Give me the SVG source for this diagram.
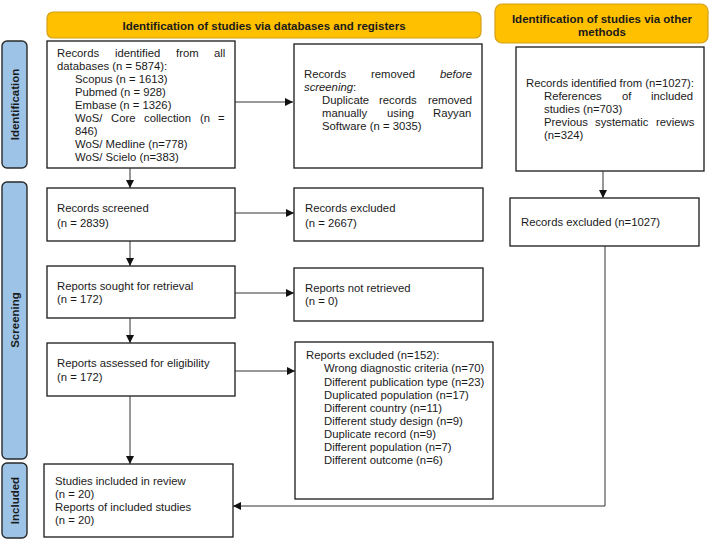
<svg xmlns="http://www.w3.org/2000/svg" width="710" height="539" viewBox="0 0 710 539">
<style>
text{font-family:"Liberation Sans",Arial,sans-serif;font-size:11.3px;fill:#1a1a1a}
.b{font-weight:bold;font-size:11.5px}
.box{fill:#fff;stroke:#1a1a1a;stroke-width:1.3}
.ban{fill:#ffc000;stroke:#d4a017;stroke-width:1.2}
.side{fill:#9dc3e6;stroke:#2a2a2a;stroke-width:1.4}
.c{fill:none;stroke:#333;stroke-width:1}
</style>
<defs>
<marker id="ah" viewBox="0 0 10 10" refX="10" refY="5" markerWidth="8" markerHeight="8" markerUnits="userSpaceOnUse" orient="auto">
<path d="M0,0 L10,5 L0,10 z" fill="#111"/>
</marker>
</defs>
<rect width="710" height="539" fill="#fff"/>

<g id="banner-db"><rect class="ban" x="47" y="12" width="434" height="26" rx="6"/><text class="b" x="264" y="30" text-anchor="middle">Identification of studies via databases and registers</text></g>
<g id="banner-other"><rect class="ban" x="495" y="4" width="213" height="39" rx="7"/><text class="b" x="602" y="23" text-anchor="middle">Identification of studies via other</text><text class="b" x="602" y="36" text-anchor="middle">methods</text></g>

<g id="side-identification"><rect class="side" x="2" y="41" width="25" height="127" rx="5"/><text class="b" transform="translate(19,104.5) rotate(-90)" text-anchor="middle">Identification</text></g>
<g id="side-screening"><rect class="side" x="2" y="182" width="25" height="277" rx="5"/><text class="b" transform="translate(19,320) rotate(-90)" text-anchor="middle">Screening</text></g>
<g id="side-included"><rect class="side" x="2" y="463" width="25" height="75" rx="5"/><text class="b" transform="translate(19,500.5) rotate(-90)" text-anchor="middle">Included</text></g>

<g id="identified">
<rect class="box" x="47" y="41" width="188" height="127"/>
<text y="57"><tspan x="57">Records</tspan><tspan x="115">identified</tspan><tspan x="176">from</tspan><tspan x="214">all</tspan></text>
<text x="57" y="70">databases (n = 5874):</text>
<text x="75" y="83">Scopus (n = 1613)</text>
<text x="75" y="96">Pubmed (n = 928)</text>
<text x="75" y="109">Embase (n = 1326)</text>
<text y="122"><tspan x="75">WoS/</tspan><tspan x="111">Core</tspan><tspan x="144">collection</tspan><tspan x="200">(n</tspan><tspan x="218">=</tspan></text>
<text x="75" y="135">846)</text>
<text x="75" y="148">WoS/ Medline (n=778)</text>
<text x="75" y="161">WoS/ Scielo (n=383)</text>
</g>

<g id="removed">
<rect class="box" x="294" y="44" width="188" height="124"/>
<text y="78"><tspan x="304">Records</tspan><tspan x="371">removed</tspan><tspan x="440" font-style="italic">before</tspan></text>
<text x="304" y="91"><tspan font-style="italic">screening</tspan>:</text>
<text y="104"><tspan x="322">Duplicate</tspan><tspan x="379">records</tspan><tspan x="428">removed</tspan></text>
<text y="117"><tspan x="322">manually</tspan><tspan x="387">using</tspan><tspan x="433">Rayyan</tspan></text>
<text x="322" y="130">Software (n = 3035)</text>
</g>

<g id="other-identified">
<rect class="box" x="516" y="47" width="188" height="124"/>
<text x="526" y="87">Records identified from (n=1027):</text>
<text y="100"><tspan x="544">References</tspan><tspan x="622">of</tspan><tspan x="651">included</tspan></text>
<text x="544" y="113">studies (n=703)</text>
<text y="126"><tspan x="544">Previous</tspan><tspan x="595">systematic</tspan><tspan x="656">reviews</tspan></text>
<text x="544" y="139">(n=324)</text>
</g>

<g id="screened"><rect class="box" x="47" y="188" width="188" height="53"/><text x="57" y="212">Records screened</text><text x="57" y="227">(n = 2839)</text></g>
<g id="excluded"><rect class="box" x="294" y="188" width="189" height="53"/><text x="305" y="212">Records excluded</text><text x="305" y="227">(n = 2667)</text></g>
<g id="other-excluded"><rect class="box" x="510" y="198" width="189" height="48"/><text x="521" y="226">Records excluded (n=1027)</text></g>

<g id="sought"><rect class="box" x="47" y="266" width="188" height="52"/><text x="57" y="290">Reports sought for retrieval</text><text x="57" y="303">(n = 172)</text></g>
<g id="not-retrieved"><rect class="box" x="294" y="268" width="189" height="53"/><text x="305" y="292">Reports not retrieved</text><text x="305" y="305">(n = 0)</text></g>

<g id="assessed"><rect class="box" x="47" y="343" width="188" height="53"/><text x="57" y="367">Reports assessed for eligibility</text><text x="57" y="381">(n = 172)</text></g>
<g id="reports-excluded">
<rect class="box" x="295" y="342" width="198" height="157"/>
<text x="306" y="359">Reports excluded (n=152):</text>
<text x="324" y="372">Wrong diagnostic criteria (n=70)</text>
<text x="324" y="386">Different publication type (n=23)</text>
<text x="324" y="399">Duplicated population (n=17)</text>
<text x="324" y="412">Different country (n=11)</text>
<text x="324" y="425">Different study design (n=9)</text>
<text x="324" y="438">Duplicate record (n=9)</text>
<text x="324" y="451">Different population (n=7)</text>
<text x="324" y="464">Different outcome (n=6)</text>
</g>

<g id="included"><rect class="box" x="44" y="464" width="189" height="73"/><text x="55" y="485">Studies included in review</text><text x="55" y="498">(n = 20)</text><text x="55" y="511">Reports of included studies</text><text x="55" y="524">(n = 20)</text></g>

<g id="connectors">
<line class="c" x1="235" y1="102" x2="293" y2="102" marker-end="url(#ah)"/>
<line class="c" x1="130" y1="168" x2="130" y2="188" marker-end="url(#ah)"/>
<line class="c" x1="235" y1="213" x2="294" y2="213" marker-end="url(#ah)"/>
<line class="c" x1="130" y1="241" x2="130" y2="266" marker-end="url(#ah)"/>
<line class="c" x1="235" y1="293" x2="294" y2="293" marker-end="url(#ah)"/>
<line class="c" x1="130" y1="318" x2="130" y2="343" marker-end="url(#ah)"/>
<line class="c" x1="235" y1="371" x2="295" y2="371" marker-end="url(#ah)"/>
<line class="c" x1="130" y1="396" x2="130" y2="464" marker-end="url(#ah)"/>
<line class="c" x1="603" y1="171" x2="603" y2="198" marker-end="url(#ah)"/>
<polyline class="c" points="605,246 605,506 233,506" marker-end="url(#ah)"/>
</g>
</svg>
